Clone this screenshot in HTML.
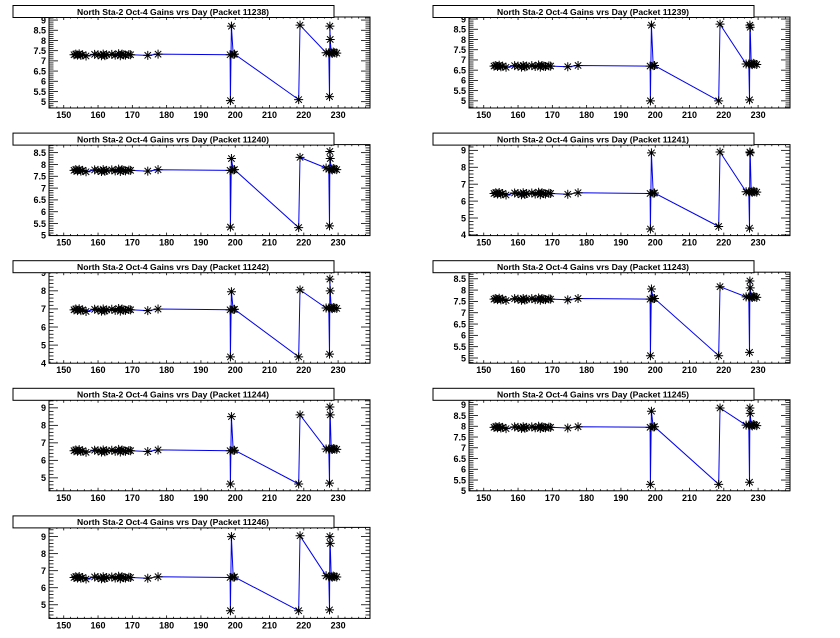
<!DOCTYPE html>
<html><head><meta charset="utf-8"><style>
body{margin:0;background:#fff;}
svg{display:block;font-family:"Liberation Sans",Arial,sans-serif;}
</style></head><body>
<svg id="c" width="840" height="638" xmlns="http://www.w3.org/2000/svg"></svg>
<script>
const P=[
 {id:11238,ymin:4.69,ymax:9.15,t0:5,t1:9,st:0.5,base:7.3,h1:8.7,l1:5.05,h2:8.75,l2:5.1,h3:8.7,m3:8.05,l3:5.25,b3:7.4},
 {id:11239,ymin:4.65,ymax:9.1,t0:5,t1:9,st:0.5,base:6.7,h1:8.7,l1:5.0,h2:8.75,l2:5.0,h3:8.7,m3:8.6,l3:5.05,b3:6.8},
 {id:11240,ymin:4.99,ymax:8.84,t0:5,t1:8.5,st:0.5,base:7.75,h1:8.25,l1:5.35,h2:8.3,l2:5.33,h3:8.55,m3:8.25,l3:5.4,b3:7.8},
 {id:11241,ymin:3.96,ymax:9.34,t0:4,t1:9,st:1,base:6.45,h1:8.85,l1:4.35,h2:8.9,l2:4.5,h3:8.9,m3:8.85,l3:4.4,b3:6.55},
 {id:11242,ymin:4.0,ymax:9.03,t0:4,t1:9,st:1,base:6.95,h1:7.95,l1:4.35,h2:8.05,l2:4.35,h3:8.65,m3:8.0,l3:4.5,b3:7.05},
 {id:11243,ymin:4.77,ymax:8.79,t0:5,t1:8.5,st:0.5,base:7.6,h1:8.05,l1:5.1,h2:8.15,l2:5.1,h3:8.4,m3:8.1,l3:5.25,b3:7.7},
 {id:11244,ymin:4.26,ymax:9.46,t0:5,t1:9,st:1,base:6.55,h1:8.5,l1:4.65,h2:8.6,l2:4.65,h3:9.05,m3:8.6,l3:4.7,b3:6.65},
 {id:11245,ymin:5.0,ymax:9.23,t0:5,t1:9,st:0.5,base:7.95,h1:8.7,l1:5.3,h2:8.85,l2:5.3,h3:8.85,m3:8.6,l3:5.4,b3:8.05},
 {id:11246,ymin:4.2,ymax:9.54,t0:5,t1:9,st:1,base:6.6,h1:9.0,l1:4.65,h2:9.05,l2:4.65,h3:9.0,m3:8.6,l3:4.7,b3:6.65}
];
const svg=document.getElementById('c');let s='';
const FX0=49,FX1=370,FY0=17,FY1=108,XMIN=145.7,XMAX=239.3;
const bx=[153,153.5,154,154.5,155,155.5,156.5,159,160,161,161.5,162,162.5,164,165,166,166.5,167,167.5,168,169,169.5,174.5,177.5];
const jit=[0,.03,-.02,.04,-.03,0,-.06,.02,0,-.05,.03,-.04,0,.02,-.02,.05,-.05,.03,0,-.02,.01,0,-.03,.03];
P.forEach((p,i)=>{
 const ox=(i%2)*420, oy=Math.floor(i/2)*127.6;
 const X=x=>ox+FX0+(x-XMIN)/(XMAX-XMIN)*(FX1-FX0);
 const Y=y=>oy+FY1-(y-p.ymin)/(p.ymax-p.ymin)*(FY1-FY0);
 // frame
 s+=`<rect x="${ox+FX0}" y="${oy+FY0}" width="${FX1-FX0}" height="${FY1-FY0}" fill="none" stroke="#000" stroke-width="1"/>`;
 // x ticks
 for(let v=146;v<=238;v+=2){const xx=X(v);const maj=v%10==0;const L=maj?3:1.6;
  s+=`<line x1="${xx}" y1="${oy+FY1}" x2="${xx}" y2="${oy+FY1-L}" stroke="#000" stroke-width="0.8"/><line x1="${xx}" y1="${oy+FY0}" x2="${xx}" y2="${oy+FY0+L}" stroke="#000" stroke-width="0.8"/>`;
  if(maj&&v>=150&&v<=230)s+=`<text x="${xx}" y="${oy+FY1+10}" font-size="9" font-weight="bold" text-anchor="middle">${v}</text>`;}
 // y ticks
 const mstep=p.st/5;
 for(let k=Math.ceil(p.ymin/mstep-1e-6);k*mstep<=p.ymax+1e-9;k++){const v=k*mstep;const yy=Y(v);
  const maj=Math.abs(v/p.st-Math.round(v/p.st))<1e-6;const L=maj?9:4.5;
  s+=`<line x1="${ox+FX0}" y1="${yy}" x2="${ox+FX0+L}" y2="${yy}" stroke="#000" stroke-width="0.8"/><line x1="${ox+FX1}" y1="${yy}" x2="${ox+FX1-L}" y2="${yy}" stroke="#000" stroke-width="0.8"/>`;
  if(maj&&v>=p.t0-1e-6&&v<=p.t1+1e-6)s+=`<text x="${ox+FX0-3}" y="${yy+3.3}" font-size="9" font-weight="bold" text-anchor="end">${+v.toFixed(1)}</text>`;}
 // data
 const pts=[];bx.forEach((x,j)=>pts.push([x,p.base+jit[j]*(p.st>0.5?1.5:1)]));
 pts.push([198.5,p.base]);pts.push([198.6,p.l1]);pts.push([198.9,p.h1]);pts.push([199.4,p.base+0.02]);pts.push([199.8,p.base+0.03]);
 pts.push([218.5,p.l2]);pts.push([218.9,p.h2]);pts.push([226.5,p.base+0.1]);pts.push([227.3,p.b3]);pts.push([227.5,p.l3]);
 pts.push([227.6,p.h3]);pts.push([227.7,p.m3]);pts.push([228.0,p.b3]);pts.push([228.3,p.b3-0.03]);pts.push([228.6,p.b3+0.03]);pts.push([229,p.b3]);pts.push([229.6,p.b3-0.02]);
 s+=`<polyline fill="none" stroke="#0000ee" stroke-width="1" points="${pts.map(q=>X(q[0]).toFixed(1)+','+Y(q[1]).toFixed(1)).join(' ')}"/>`;
 pts.forEach(q=>{const x=X(q[0]),y=Y(q[1]),r=4.5,d=3.2;
  s+=`<path d="M${x-r} ${y}H${x+r}M${x} ${y-r}V${y+r}M${x-d} ${y-d}L${x+d} ${y+d}M${x-d} ${y+d}L${x+d} ${y-d}" stroke="#000" stroke-width="1"/>`;});
 // title
 s+=`<rect x="${ox+13}" y="${oy+5.5}" width="321" height="12" fill="#fff" stroke="#000" stroke-width="1"/>`;
 s+=`<text x="${ox+173}" y="${oy+14.8}" font-size="8.6" font-weight="bold" text-anchor="middle">North Sta-2 Oct-4 Gains vrs Day (Packet ${p.id})</text>`;
});
svg.innerHTML=s;
</script>
</body></html>
